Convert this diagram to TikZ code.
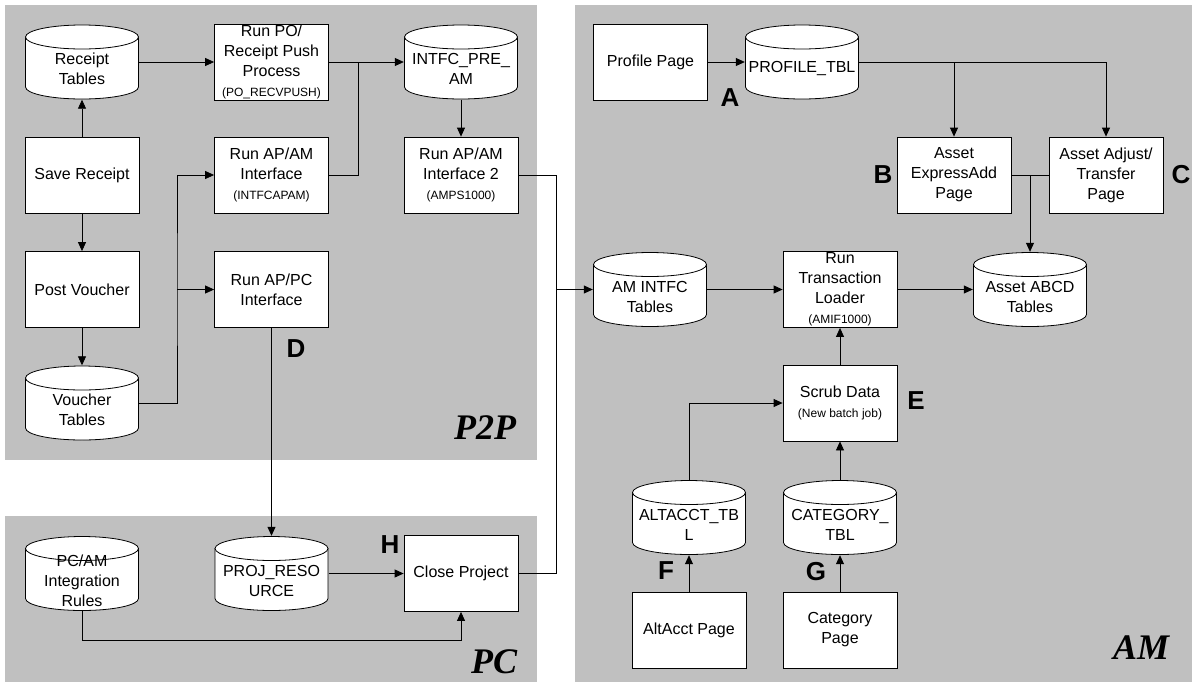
\documentclass[tikz,border=0pt]{standalone}
\usepackage{fontspec}
\setmainfont{Liberation Sans}
\newfontfamily\areaserif{Liberation Serif}
\usetikzlibrary{arrows.meta}
\definecolor{panelgray}{RGB}{192,192,192}
\newcommand{\boxfont}{\fontsize{16}{20}\selectfont}
\newcommand{\subfont}{\fontsize{12}{16}\selectfont}

\tikzset{
  panel/.style={fill=panelgray, draw=none},
  proc/.style={draw=black, line width=0.8pt, fill=white, minimum width=114pt, minimum height=76pt, inner sep=1pt, align=center, font=\boxfont},
  dbtext/.style={align=center, font=\boxfont, inner sep=0pt, yshift=-7pt},
  dbase/.style={minimum width=114pt, minimum height=75pt, inner sep=0pt,
    path picture={
      \path (path picture bounding box.center) coordinate (dbc);
      \draw[line width=0.8pt, fill=white] ([shift={(-56.5,25)}]dbc) -- ([shift={(-56.5,-25)}]dbc)
        arc[start angle=180, end angle=360, x radius=56.5, y radius=12] -- ([shift={(56.5,25)}]dbc) -- cycle;
      \draw[line width=0.8pt, fill=white] ([shift={(0,25)}]dbc) ellipse[x radius=56.5, y radius=12];
    },
    label={[dbtext]center:#1}},
  flow/.style={draw=black, line width=0.8pt, -{Triangle[length=9pt,width=8pt]}},
  link/.style={draw=black, line width=0.8pt},
  tag/.style={font={\fontsize{26}{26}\selectfont\bfseries}, inner sep=0pt},
  area/.style={font={\areaserif\fontsize{36}{36}\selectfont\bfseries\itshape}, inner sep=0pt}
}

\begin{document}
\begin{tikzpicture}[x=1pt, y=1pt]
\useasboundingbox (0,0) rectangle (1196,-686);

% Panels
\fill[panel] (5,-5) rectangle (537,-460);
\fill[panel] (5,-516) rectangle (537,-682);
\fill[panel] (575,-5) rectangle (1192,-682);
\node[area] (p2ptitle) at (485,-428) {P2P};
\node[area] (pctitle) at (494,-662) {PC};
\node[area] (amtitle) at (1141,-648) {AM};

% P2P
\node[dbase={Receipt\\Tables}] (receipt) at (82,-62) {};
\node[proc] (runpo) at (271.5,-62) {Run PO/\\Receipt Push\\Process\\{\subfont (PO\_RECVPUSH)}};
\node[dbase={INTFC\_PRE\_\\AM}] (intfc) at (461,-62) {};
\node[proc] (save) at (82,-175) {Save Receipt};
\node[proc] (apam) at (271.5,-175) {Run AP/AM\\Interface\\{\subfont (INTFCAPAM)}};
\node[proc] (apam2) at (461,-175) {Run AP/AM\\Interface 2\\{\subfont (AMPS1000)}};
\node[proc] (post) at (82,-289.5) {Post Voucher};
\node[proc] (appc) at (271.5,-289.5) {Run AP/PC\\Interface};
\node[dbase={Voucher\\Tables}] (voucher) at (82,-403) {};

% PC
\node[dbase={PC/AM\\Integration\\Rules}] (pcam) at (82,-573.5) {};
\node[dbase={PROJ\_RESO\\URCE}] (projres) at (271.5,-573.5) {};
\node[proc] (closeproj) at (461,-573.5) {Close Project};

% AM
\node[proc] (profpg) at (650.5,-62) {Profile Page};
\node[dbase={PROFILE\_TBL}] (proftbl) at (802,-62) {};
\node[proc] (expadd) at (954,-175) {Asset\\ExpressAdd\\Page};
\node[proc] (adjust) at (1106,-175) {Asset Adjust/\\Transfer\\Page};
\node[dbase={AM INTFC\\Tables}] (amintfc) at (650,-289.5) {};
\node[proc] (rtl) at (840,-289.5) {Run\\Transaction\\Loader\\{\subfont (AMIF1000)}};
\node[dbase={Asset ABCD\\Tables}] (abcd) at (1030,-289.5) {};
\node[proc] (scrub) at (840,-403) {Scrub Data\\{\subfont (New batch job)}};
\node[dbase={ALTACCT\_TB\\L}] (alttbl) at (689,-517.5) {};
\node[dbase={CATEGORY\_\\TBL}] (cattbl) at (840,-517.5) {};
\node[proc] (altpg) at (689,-630) {AltAcct Page};
\node[proc] (catpg) at (840,-630) {Category\\Page};

% Junctions
\coordinate (pushjoin) at (358,-62);
\coordinate (vjoin) at (177,-289.5);
\coordinate (amjoin) at (556,-289.5);
\coordinate (assetjoin) at (1030,-175);
\coordinate (rulesbend) at (461,-640);

% Arrows
\draw[flow] (save) -- (receipt);
\draw[flow] (save) -- (post);
\draw[flow] (post) -- (voucher);
\draw[flow] (receipt) -- (runpo);
\draw[flow] (runpo) -- (intfc);
\draw[link] (apam.east) -| (pushjoin);
\draw[flow] (voucher.east) -| (vjoin) |- (apam.west);
\draw[flow] (vjoin) -- (appc.west);
\draw[flow] (intfc) -- (apam2);
\draw[link] (apam2.east) -| (amjoin);
\draw[link] (closeproj.east) -| (amjoin);
\draw[flow] (amjoin) -- (amintfc.west);
\draw[flow] (appc) -- (projres);
\draw[flow] (projres) -- (closeproj);
\draw[flow] (pcam.south) |- (rulesbend) -- (closeproj.south);
\draw[flow] (profpg) -- (proftbl);
\draw[flow] (proftbl.east) -| (expadd.north);
\draw[flow] (proftbl.east) -| (adjust.north);
\draw[link] (expadd) -- (adjust);
\draw[flow] (assetjoin) -- (abcd.north);
\draw[flow] (amintfc) -- (rtl);
\draw[flow] (rtl) -- (abcd);
\draw[flow] (scrub) -- (rtl);
\draw[flow] (alttbl.north) |- (scrub.west);
\draw[flow] (cattbl) -- (scrub);
\draw[flow] (altpg) -- (alttbl);
\draw[flow] (catpg) -- (cattbl);

% Step letters
\node[tag] (tagA) at (730,-98) {A};
\node[tag] (tagB) at (883,-175) {B};
\node[tag] (tagC) at (1181,-175) {C};
\node[tag] (tagD) at (296,-349) {D};
\node[tag] (tagE) at (916,-401) {E};
\node[tag] (tagF) at (666,-571) {F};
\node[tag] (tagG) at (816,-572) {G};
\node[tag] (tagH) at (390,-545) {H};
\end{tikzpicture}
\end{document}
